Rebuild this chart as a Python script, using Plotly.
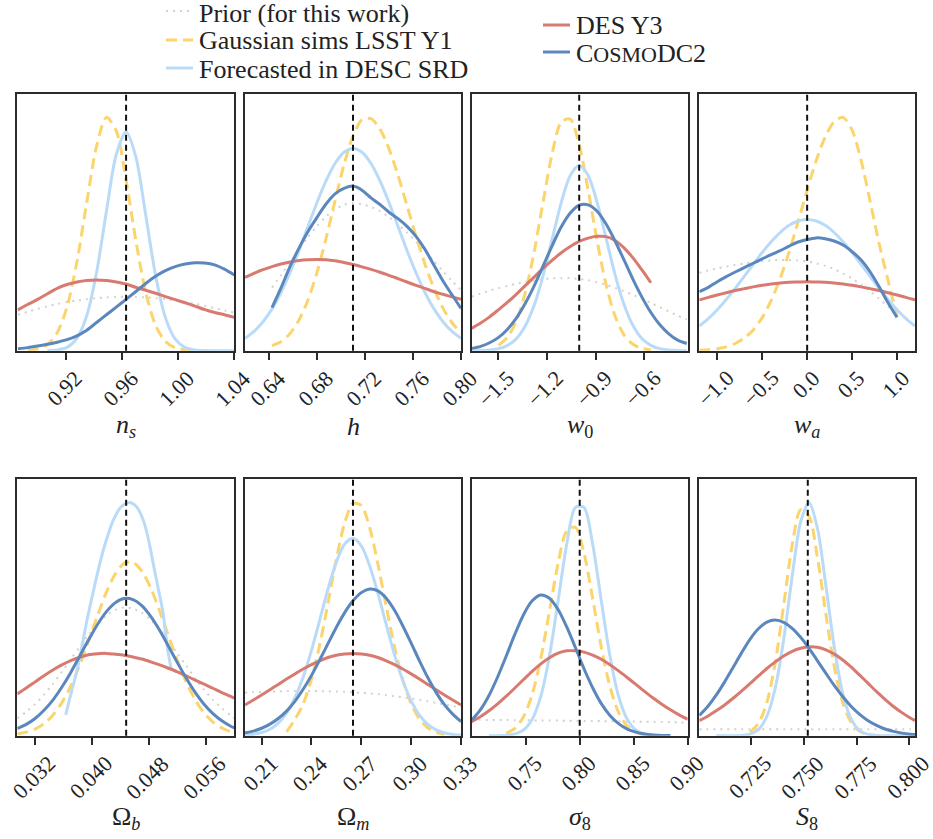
import plotly.graph_objects as go

# ---------------------------------------------------------------------------
# 1D marginal posteriors, sampled on a grid (heights relative to panel frame)
# ---------------------------------------------------------------------------

# n_s
NS_X = [0.886, 0.893, 0.900, 0.907, 0.914, 0.921, 0.928, 0.935, 0.942, 0.949, 0.956, 0.963,
        0.970, 0.977, 0.984, 0.991, 0.998, 1.005, 1.012, 1.019, 1.026, 1.033, 1.040]
NS_PRIOR = [0.140, 0.152, 0.163, 0.173, 0.182, 0.190, 0.196, 0.201, 0.205, 0.208, 0.210, 0.211,
            0.210, 0.208, 0.205, 0.201, 0.196, 0.190, 0.183, 0.175, 0.166, 0.157, 0.148]
NS_LSST = [None, 0.002, 0.007, 0.023, 0.070, 0.171, 0.346, 0.578, 0.798, 0.910, 0.857, 0.666,
           0.428, 0.227, 0.099, 0.036, 0.011, 0.003, 0.001, None, None, None, None]
NS_SRD = [None, None, None, 0.001, 0.003, 0.013, 0.048, 0.136, 0.305, 0.543, 0.765, 0.854,
          0.755, 0.528, 0.293, 0.129, 0.045, 0.012, 0.003, 0.001, 0.0, 0.0, 0.0]
NS_DES = [0.159, 0.180, 0.200, 0.222, 0.243, 0.258, 0.268, 0.274, 0.276, 0.274, 0.268, 0.260,
          0.247, 0.236, 0.224, 0.211, 0.199, 0.187, 0.174, 0.160, 0.149, 0.140, 0.130]
NS_DC2 = [0.008, 0.012, 0.018, 0.025, 0.033, 0.043, 0.058, 0.080, 0.110, 0.140, 0.170, 0.200,
          0.231, 0.262, 0.290, 0.312, 0.328, 0.338, 0.343, 0.342, 0.335, 0.318, 0.295]

# h
H_X = [0.620, 0.6275, 0.635, 0.6425, 0.650, 0.6575, 0.665, 0.6725, 0.680, 0.6875, 0.695, 0.7025,
       0.710, 0.7175, 0.725, 0.7325, 0.740, 0.7475, 0.755, 0.7625, 0.770, 0.7775, 0.785, 0.7925, 0.800]
H_PRIOR = [None, None, None, 0.246, 0.294, 0.344, 0.394, 0.443, 0.486, 0.523, 0.551, 0.569,
           0.575, 0.571, 0.561, 0.544, 0.521, 0.493, 0.461, 0.425, 0.388, 0.349, 0.310, 0.272, 0.237]
H_LSST = [None, None, None, 0.020, 0.035, 0.067, 0.120, 0.198, 0.305, 0.437, 0.584, 0.725,
          0.837, 0.901, 0.905, 0.864, 0.787, 0.684, 0.566, 0.447, 0.337, 0.243, 0.166, 0.109, 0.068]
H_SRD = [0.048, 0.075, 0.113, 0.163, 0.227, 0.304, 0.391, 0.485, 0.578, 0.662, 0.730, 0.774,
         0.789, 0.774, 0.730, 0.662, 0.578, 0.485, 0.391, 0.304, 0.227, 0.163, 0.113, 0.075, 0.048]
H_DES = [0.286, 0.302, 0.316, 0.328, 0.338, 0.346, 0.352, 0.355, 0.356, 0.355, 0.351, 0.344,
         0.336, 0.327, 0.317, 0.306, 0.294, 0.281, 0.268, 0.255, 0.243, 0.230, 0.220, 0.210, 0.200]
H_DC2 = [None, None, None, 0.168, 0.245, 0.328, 0.400, 0.465, 0.520, 0.572, 0.612, 0.633,
         0.642, 0.626, 0.596, 0.570, 0.540, 0.515, 0.485, 0.446, 0.395, 0.333, 0.272, 0.218, 0.165]

# w0
W0_X = [-1.66, -1.605, -1.55, -1.495, -1.44, -1.385, -1.33, -1.275, -1.22, -1.165, -1.11, -1.055,
        -1.0, -0.945, -0.89, -0.835, -0.78, -0.725, -0.67, -0.615, -0.56, -0.505, -0.45, -0.395, -0.34]
W0_PRIOR = [0.211, 0.223, 0.234, 0.244, 0.253, 0.261, 0.269, 0.274, 0.279, 0.282, 0.283, 0.283,
            0.280, 0.275, 0.267, 0.257, 0.245, 0.232, 0.218, 0.202, 0.186, 0.170, 0.153, 0.137, 0.122]
W0_LSST = [None, None, None, 0.021, 0.053, 0.117, 0.229, 0.391, 0.586, 0.772, 0.892, 0.903,
           0.803, 0.626, 0.428, 0.257, 0.135, 0.062, 0.025, 0.009, 0.003, None, None, None, None]
W0_SRD = [0.000, 0.001, 0.003, 0.008, 0.021, 0.047, 0.098, 0.180, 0.297, 0.438, 0.578, 0.683,
          0.722, 0.683, 0.578, 0.438, 0.297, 0.180, 0.098, 0.047, 0.021, 0.008, 0.003, 0.001, 0.000]
W0_DES = [0.087, 0.108, 0.132, 0.160, 0.189, 0.221, 0.255, 0.288, 0.322, 0.353, 0.382, 0.406,
          0.426, 0.439, 0.446, 0.445, 0.430, 0.401, 0.362, 0.315, 0.265, None, None, None, None]
W0_DC2 = [0.009, 0.017, 0.031, 0.052, 0.084, 0.128, 0.186, 0.255, 0.333, 0.411, 0.483, 0.537,
          0.568, 0.569, 0.544, 0.494, 0.428, 0.354, 0.278, 0.209, 0.149, 0.101, 0.066, 0.041, 0.028]

# wa
WA_X = [-1.2, -1.1, -1.0, -0.9, -0.8, -0.7, -0.6, -0.5, -0.4, -0.3, -0.2, -0.1, 0.0,
        0.1, 0.2, 0.3, 0.4, 0.5, 0.6, 0.7, 0.8, 0.9, 1.0, 1.1, 1.2]
WA_PRIOR = [0.304, 0.313, 0.321, 0.328, 0.334, 0.340, 0.345, 0.349, 0.352, 0.354, 0.354, 0.352,
            0.348, 0.341, 0.331, 0.318, 0.301, 0.281, 0.258, 0.232, 0.203, 0.172, 0.140, None, None]
WA_LSST = [0.002, 0.004, 0.008, 0.015, 0.028, 0.049, 0.081, 0.129, 0.196, 0.282, 0.386, 0.504,
           0.626, 0.741, 0.833, 0.893, 0.910, 0.860, 0.742, 0.584, 0.419, 0.274, 0.133, None, None]
WA_SRD = [0.096, 0.125, 0.160, 0.200, 0.243, 0.290, 0.337, 0.383, 0.425, 0.461, 0.489, 0.506,
          0.512, 0.506, 0.489, 0.461, 0.425, 0.383, 0.337, 0.290, 0.243, 0.200, 0.160, 0.125, 0.096]
WA_DES = [0.198, 0.208, 0.217, 0.226, 0.235, 0.242, 0.249, 0.255, 0.260, 0.264, 0.267, 0.268,
          0.269, 0.268, 0.267, 0.264, 0.260, 0.255, 0.249, 0.242, 0.235, 0.226, 0.217, 0.208, 0.198]
WA_DC2 = [0.230, 0.247, 0.269, 0.289, 0.307, 0.324, 0.341, 0.358, 0.375, 0.390, 0.408, 0.424,
          0.434, 0.440, 0.437, 0.428, 0.412, 0.386, 0.354, 0.308, 0.250, 0.187, 0.130, None, None]

# Omega_b
OMB_X = [0.0295, 0.03075, 0.032, 0.03325, 0.0345, 0.03575, 0.037, 0.03825, 0.0395, 0.04075, 0.042,
         0.04325, 0.0445, 0.04575, 0.047, 0.04825, 0.0495, 0.05075, 0.052, 0.05325, 0.0545,
         0.05575, 0.057, 0.05825, 0.0595, 0.060]
OMB_PRIOR = [0.068, 0.093, 0.123, 0.160, 0.202, 0.248, 0.297, 0.346, 0.393, 0.435, 0.468, 0.490,
             0.500, 0.496, 0.480, 0.452, 0.414, 0.370, 0.321, 0.272, 0.224, 0.179, 0.140, 0.107,
             0.079, 0.069]
OMB_LSST = [0.007, 0.014, 0.026, 0.047, 0.080, 0.128, 0.192, 0.274, 0.368, 0.466, 0.558, 0.630,
            0.672, 0.676, 0.642, 0.576, 0.487, 0.389, 0.293, 0.209, 0.140, 0.089, 0.053, 0.030,
            0.016, 0.012]
OMB_SRD_X = [0.0363, 0.0371, 0.0379, 0.0386, 0.0393, 0.0402, 0.0411, 0.0420, 0.0430, 0.0441,
             0.0453, 0.0462, 0.0472, 0.0479, 0.0486, 0.0493, 0.0500, 0.0505, 0.0511]
OMB_SRD = [0.081, 0.170, 0.256, 0.350, 0.451, 0.565, 0.672, 0.762, 0.841, 0.893,
           0.910, 0.895, 0.841, 0.770, 0.672, 0.575, 0.477, 0.360, 0.263]
OMB_DES = [0.163, 0.186, 0.210, 0.234, 0.256, 0.276, 0.293, 0.306, 0.316, 0.320, 0.321, 0.318,
           0.314, 0.307, 0.299, 0.288, 0.276, 0.263, 0.249, 0.233, 0.217, 0.201, 0.185, 0.168,
           0.153, 0.146]
OMB_DC2 = [0.028, 0.044, 0.067, 0.099, 0.139, 0.189, 0.246, 0.309, 0.373, 0.433, 0.483, 0.518,
           0.535, 0.531, 0.507, 0.465, 0.411, 0.349, 0.285, 0.224, 0.169, 0.123, 0.086, 0.058,
           0.037, 0.031]

# Omega_m
OMM_X = [0.200, 0.205, 0.210, 0.215, 0.220, 0.225, 0.230, 0.235, 0.240, 0.245, 0.250, 0.255, 0.260,
         0.265, 0.270, 0.275, 0.280, 0.285, 0.290, 0.295, 0.300, 0.305, 0.310, 0.315, 0.320,
         0.325, 0.330]
OMM_PRIOR = [0.168, 0.170, 0.171, 0.172, 0.173, 0.174, 0.174, 0.174, 0.174, 0.174, 0.173, 0.172,
             0.171, 0.169, 0.167, 0.165, 0.162, 0.158, 0.154, 0.150, 0.145, 0.140, 0.134, 0.128,
             0.122, 0.116, 0.110]
OMM_LSST = [None, None, None, None, None, 0.015, 0.063, 0.124, 0.220, 0.355, 0.519, 0.689, 0.830,
            0.906, 0.898, 0.812, 0.669, 0.504, 0.346, 0.217, 0.124, 0.065, 0.031, 0.013, 0.005,
            None, None]
OMM_SRD = [0.002, 0.006, 0.012, 0.025, 0.049, 0.088, 0.147, 0.229, 0.333, 0.452, 0.573, 0.678,
           0.748, 0.770, 0.740, 0.663, 0.555, 0.433, 0.315, 0.214, 0.136, 0.080, 0.044, 0.023,
           0.011, 0.005, 0.002]
OMM_DES = [0.120, 0.139, 0.159, 0.179, 0.200, 0.221, 0.241, 0.260, 0.277, 0.292, 0.305, 0.314,
           0.319, 0.321, 0.319, 0.314, 0.305, 0.292, 0.277, 0.260, 0.241, 0.221, 0.200, 0.179,
           0.159, 0.139, 0.120]
OMM_DC2 = [0.011, 0.018, 0.029, 0.045, 0.067, 0.096, 0.134, 0.181, 0.235, 0.296, 0.360, 0.423,
           0.480, 0.526, 0.558, 0.572, 0.565, 0.536, 0.489, 0.428, 0.361, 0.292, 0.227, 0.169,
           0.121, 0.084, 0.055]

# sigma_8
SIG8_X = [0.700, 0.708, 0.716, 0.724, 0.732, 0.740, 0.748, 0.756, 0.764, 0.772, 0.780, 0.788,
          0.796, 0.804, 0.812, 0.820, 0.828, 0.836, 0.844, 0.852, 0.860, 0.868, 0.876, 0.884,
          0.892, 0.900]
SIG8_PRIOR = [0.062, 0.062, 0.061, 0.061, 0.061, 0.060, 0.060, 0.060, 0.059, 0.059, 0.059, 0.058,
              0.058, 0.057, 0.057, 0.057, 0.056, 0.056, 0.055, 0.055, 0.054, 0.054, 0.053, 0.053,
              0.052, 0.052]
SIG8_LSST = [None, None, None, None, 0.010, 0.029, 0.074, 0.161, 0.302, 0.486, 0.672, 0.798,
             0.813, 0.712, 0.535, 0.345, 0.191, 0.091, 0.037, 0.013, 0.004, None, None, None,
             None, None]
SIG8_SRD = [None, None, 0.000, 0.000, 0.002, 0.007, 0.022, 0.064, 0.154, 0.311, 0.526, 0.747,
            0.890, 0.890, 0.747, 0.526, 0.311, 0.154, 0.064, 0.022, 0.007, 0.002, 0.000, None,
            None, None]
SIG8_DES = [0.055, 0.074, 0.097, 0.124, 0.154, 0.186, 0.219, 0.251, 0.280, 0.304, 0.322, 0.331,
            0.331, 0.326, 0.314, 0.298, 0.277, 0.253, 0.227, 0.200, 0.173, 0.147, 0.123, 0.101,
            0.081, 0.064]
SIG8_DC2 = [0.061, 0.101, 0.157, 0.229, 0.311, 0.396, 0.472, 0.526, 0.549, 0.536, 0.492, 0.424,
            0.344, 0.261, 0.187, 0.125, 0.079, 0.047, 0.026, 0.014, 0.007, 0.003, 0.001, 0.001,
            None, None]

# S_8
S8_X = [0.7005, 0.7045, 0.7085, 0.7125, 0.7165, 0.7205, 0.7245, 0.7285, 0.7325, 0.7365, 0.7405,
        0.7445, 0.7485, 0.7525, 0.7565, 0.7605, 0.7645, 0.7685, 0.7725, 0.7765, 0.7805, 0.7845,
        0.7885, 0.7925, 0.7965, 0.8005, 0.8027]
S8_PRIOR = [0.025, 0.025, 0.025, 0.025, 0.025, 0.025, 0.025, 0.025, 0.025, 0.025, 0.025, 0.025,
            0.025, 0.025, 0.025, 0.025, 0.025, 0.025, 0.025, 0.025, 0.025, 0.025, 0.025, 0.025,
            0.025, 0.025, 0.025]
S8_LSST = [None, None, None, None, None, None, 0.014, 0.048, 0.129, 0.285, 0.510, 0.743, 0.881,
           0.856, 0.694, 0.472, 0.268, 0.128, 0.051, 0.017, 0.005, 0.001, 0.000, None, None,
           None, None]
S8_SRD = [None, None, 0.000, 0.000, 0.000, 0.001, 0.006, 0.024, 0.075, 0.186, 0.376, 0.621, 0.833,
          0.910, 0.808, 0.584, 0.343, 0.164, 0.064, 0.020, 0.005, 0.001, 0.000, 0.000, 0.000,
          0.000, None]
S8_DES = [0.059, 0.076, 0.097, 0.120, 0.146, 0.174, 0.203, 0.233, 0.262, 0.288, 0.311, 0.329,
          0.341, 0.347, 0.345, 0.335, 0.318, 0.295, 0.267, 0.236, 0.204, 0.172, 0.142, 0.114,
          0.090, 0.069, 0.059]
S8_DC2 = [0.079, 0.114, 0.158, 0.210, 0.266, 0.323, 0.376, 0.417, 0.443, 0.451, 0.442, 0.419,
          0.384, 0.341, 0.292, 0.243, 0.195, 0.152, 0.114, 0.083, 0.058, 0.040, 0.026, 0.017,
          0.010, 0.006, 0.005]

# fiducial (CosmoDC2 input) values, one per panel
FIDUCIAL = [0.963, 0.71, -1.0, 0.0, 0.0448, 0.265, 0.80, 0.7519]

# axis titles and tick labels
AXIS_TITLES = ["<i>n<sub>s</sub></i>", "<i>h</i>", "<i>w</i><sub>0</sub>", "<i>w<sub>a</sub></i>",
               "Ω<sub><i>b</i></sub>", "Ω<sub><i>m</i></sub>", "<i>σ</i><sub>8</sub>",
               "<i>S</i><sub>8</sub>"]
TICK_VALUES = [
    [0.92, 0.96, 1.00, 1.04],
    [0.64, 0.68, 0.72, 0.76, 0.80],
    [-1.5, -1.2, -0.9, -0.6],
    [-1.0, -0.5, 0.0, 0.5, 1.0],
    [0.032, 0.040, 0.048, 0.056],
    [0.21, 0.24, 0.27, 0.30, 0.33],
    [0.75, 0.80, 0.85, 0.90],
    [0.725, 0.750, 0.775, 0.800],
]
TICK_TEXT = [
    ["0.92", "0.96", "1.00", "1.04"],
    ["0.64", "0.68", "0.72", "0.76", "0.80"],
    ["−1.5", "−1.2", "−0.9", "−0.6"],
    ["−1.0", "−0.5", "0.0", "0.5", "1.0"],
    ["0.032", "0.040", "0.048", "0.056"],
    ["0.21", "0.24", "0.27", "0.30", "0.33"],
    ["0.75", "0.80", "0.85", "0.90"],
    ["0.725", "0.750", "0.775", "0.800"],
]
X_RANGES = [[0.8856, 1.04], [0.62, 0.80], [-1.66, -0.334], [-1.2, 1.2],
            [0.0295, 0.0600], [0.20, 0.33], [0.70, 0.90], [0.7005, 0.8027]]

# series: legend label, colour, dash, width
SERIES = [
    ("Prior (for this work)", "#d2d2d2", "2px,5px", 2.0),
    ("Gaussian sims LSST Y1", "#fbd46c", "11px,6px", 3.0),
    ("Forecasted in DESC SRD", "#b9dbf8", "solid", 3.0),
    ("DES Y3", "#d87a70", "solid", 3.0),
    ("C<span style='font-size:22px'>OSMO</span>DC2", "#5b87bd", "solid", 3.0),
]

PANELS = [
    [(NS_X, NS_PRIOR), (NS_X, NS_LSST), (NS_X, NS_SRD), (NS_X, NS_DES), (NS_X, NS_DC2)],
    [(H_X, H_PRIOR), (H_X, H_LSST), (H_X, H_SRD), (H_X, H_DES), (H_X, H_DC2)],
    [(W0_X, W0_PRIOR), (W0_X, W0_LSST), (W0_X, W0_SRD), (W0_X, W0_DES), (W0_X, W0_DC2)],
    [(WA_X, WA_PRIOR), (WA_X, WA_LSST), (WA_X, WA_SRD), (WA_X, WA_DES), (WA_X, WA_DC2)],
    [(OMB_X, OMB_PRIOR), (OMB_X, OMB_LSST), (OMB_SRD_X, OMB_SRD), (OMB_X, OMB_DES), (OMB_X, OMB_DC2)],
    [(OMM_X, OMM_PRIOR), (OMM_X, OMM_LSST), (OMM_X, OMM_SRD), (OMM_X, OMM_DES), (OMM_X, OMM_DC2)],
    [(SIG8_X, SIG8_PRIOR), (SIG8_X, SIG8_LSST), (SIG8_X, SIG8_SRD), (SIG8_X, SIG8_DES), (SIG8_X, SIG8_DC2)],
    [(S8_X, S8_PRIOR), (S8_X, S8_LSST), (S8_X, S8_SRD), (S8_X, S8_DES), (S8_X, S8_DC2)],
]

# ---------------------------------------------------------------------------
W, H = 933, 839
FONT = "Liberation Serif"
INK = "#222222"
FRAME = "#2b2b2b"
TICK_SIZE = 22

col_px = [(17.3, 234.3), (245.0, 461.0), (471.7, 687.7), (699.3, 915.0)]
row_px = [(94.3, 350.7), (479.3, 735.7)]
title_y_px = [426, 818]

fig = go.Figure()
layout = dict(
    width=W, height=H,
    margin=dict(l=0, r=0, t=0, b=0, pad=0, autoexpand=False),
    paper_bgcolor="white", plot_bgcolor="white",
    font=dict(family=FONT, color=INK, size=TICK_SIZE),
    showlegend=False,
    shapes=[], annotations=[],
)

for i, curves in enumerate(PANELS):
    k = i + 1
    r, c = divmod(i, 4)
    xs = "" if k == 1 else str(k)
    x0, x1 = col_px[c]
    y0, y1 = row_px[r]
    xdom = [x0 / W, x1 / W]
    ydom = [1 - y1 / H, 1 - y0 / H]

    for s, (xv, yv) in enumerate(curves):
        name, color, dash, width = SERIES[s]
        fig.add_trace(go.Scatter(
            x=xv, y=yv, mode="lines", name=name,
            line=dict(color=color, dash=dash, width=width, shape="spline", smoothing=0.8),
            xaxis="x" + xs, yaxis="y" + xs, hoverinfo="skip",
        ))

    layout["xaxis" + xs] = dict(
        domain=xdom, anchor="y" + xs, range=X_RANGES[i], automargin=False,
        showline=True, mirror=True, linecolor=FRAME, linewidth=1.6,
        showgrid=False, zeroline=False,
        ticks="outside", ticklen=7, tickwidth=1.5, tickcolor=FRAME,
        tickmode="array", tickvals=TICK_VALUES[i], showticklabels=False,
    )
    layout["yaxis" + xs] = dict(
        domain=ydom, anchor="x" + xs, range=[0, 1], automargin=False,
        showline=True, mirror=True, linecolor=FRAME, linewidth=1.6,
        showgrid=False, zeroline=False, showticklabels=False, ticks="",
    )
    layout["shapes"].append(dict(
        type="line", xref="x" + xs, yref="y" + xs + " domain",
        x0=FIDUCIAL[i], x1=FIDUCIAL[i], y0=0, y1=1,
        line=dict(color="#111111", width=2, dash="6px,4px"),
    ))
    # rotated tick labels, centred under each tick
    for tv, tt in zip(TICK_VALUES[i], TICK_TEXT[i]):
        layout["annotations"].append(dict(
            text=tt, xref="x" + xs, yref="y" + xs + " domain", x=tv, y=0,
            xanchor="center", yanchor="top", xshift=-1.5, yshift=-12, textangle=-45,
            showarrow=False, font=dict(size=TICK_SIZE, family=FONT, color=INK),
        ))
    layout["annotations"].append(dict(
        text=AXIS_TITLES[i], xref="paper", yref="paper",
        x=(xdom[0] + xdom[1]) / 2, y=1 - title_y_px[r] / H,
        xanchor="center", yanchor="middle", showarrow=False,
        font=dict(size=26, family=FONT, color=INK),
    ))

# legend: two columns of line keys with labels
LEGEND_SLOTS = [(166, 11), (166, 40), (166, 68), (543, 25), (543, 52)]
LEGEND_TEXT_DY = [3, 1, 1, 1, 1]
KEY_LEN = 27
for s, (lx, ly) in enumerate(LEGEND_SLOTS):
    name, color, dash, width = SERIES[s]
    layout["shapes"].append(dict(
        type="line", xref="paper", yref="paper",
        x0=lx / W, x1=(lx + KEY_LEN) / W, y0=1 - ly / H, y1=1 - ly / H,
        line=dict(color=color, width=width, dash=dash),
    ))
    layout["annotations"].append(dict(
        text=name, xref="paper", yref="paper",
        x=(lx + KEY_LEN + 4) / W, y=1 - (ly + LEGEND_TEXT_DY[s]) / H,
        xanchor="left", yanchor="middle", showarrow=False,
        font=dict(size=26, family=FONT, color=INK),
    ))

fig.update_layout(**layout)
fig.write_html("out.html")
